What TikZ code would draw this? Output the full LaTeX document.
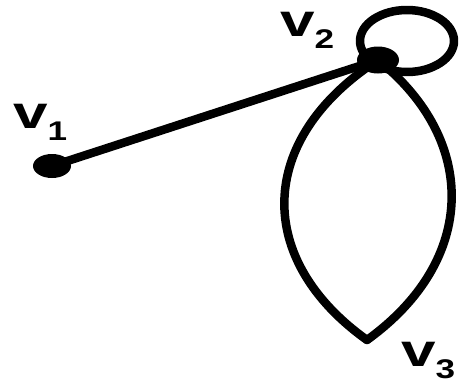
\documentclass[tikz,border=0pt]{standalone}
\usepackage{fontspec}
\setmainfont{Liberation Sans}
\usepackage{graphicx}
\usetikzlibrary{shapes.geometric}
\newcommand\vlabel[1]{\scalebox{1.35}[1]{\fontsize{46}{46}\selectfont\bfseries v}\raisebox{-12pt}{\scalebox{1.3}[1]{\fontsize{27}{27}\selectfont\bfseries #1}}}
\begin{document}
\begin{tikzpicture}[x=1pt,y=-1pt,
  edge/.style={line width=8.5pt, line join=round, line cap=round},
  vdot/.style={ellipse, fill=black, inner sep=0, minimum width=38pt, minimum height=24pt},
  lab/.style={anchor=base west, inner sep=0, text height=24pt, text depth=12pt}]
\useasboundingbox (0,0) rectangle (460,383);
\node[vdot] (v1) at (52,166) {};
\node[vdot, minimum width=42pt, minimum height=27pt] (v2) at (378,60) {};
\coordinate (v3) at (367,340);
\draw[edge] (v1.center) -- (v2.center);
\draw[edge] (v2.center) .. controls (255,140) and (255,260) .. (v3);
\draw[edge] (v2.center) .. controls (478,140) and (478,260) .. (v3);
\draw[edge] (407,41) ellipse [x radius=47, y radius=31];
\node[lab] (l1) at (13,128) {\vlabel{1}};
\node[lab] (l2) at (280,36) {\vlabel{2}};
\node[lab] (l3) at (401,366) {\vlabel{3}};
\end{tikzpicture}
\end{document}
